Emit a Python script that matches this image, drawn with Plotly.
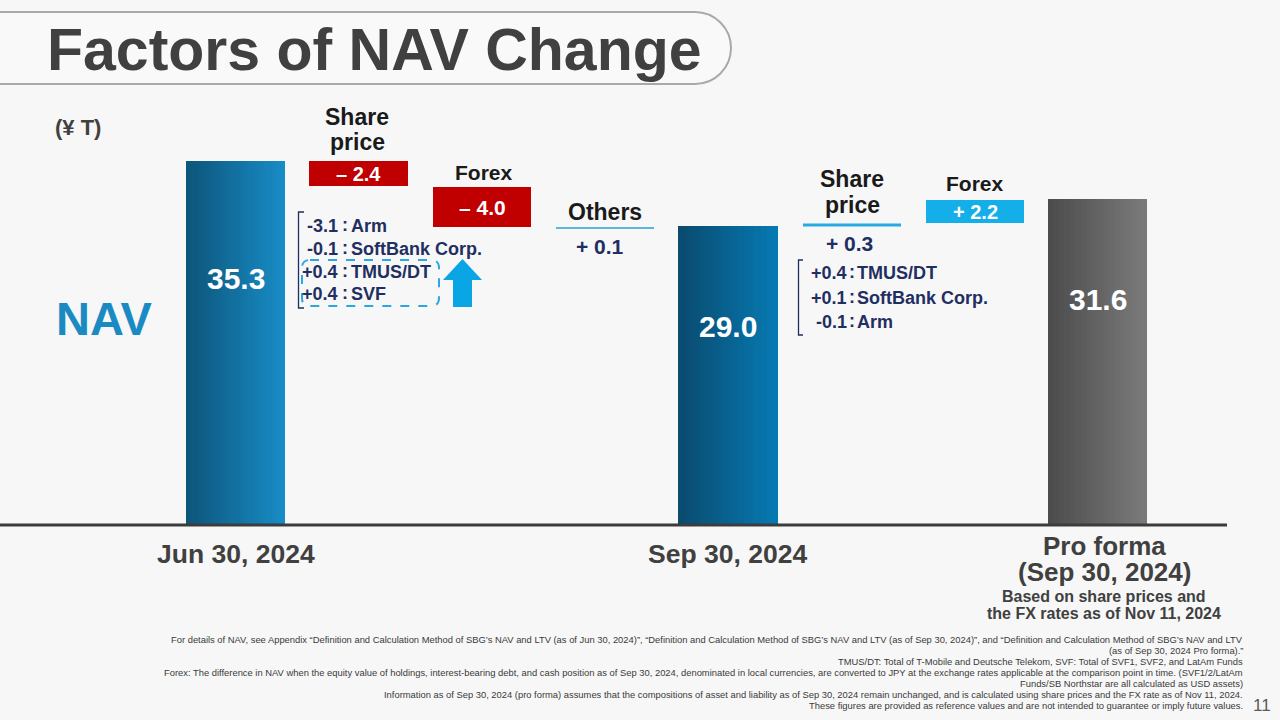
import plotly.graph_objects as go

# ---------------- data ----------------
categories = ["Jun 30, 2024", "Sep 30, 2024", "Pro forma<br>(Sep 30, 2024)"]
category_note = "Based on share prices and<br>the FX rates as of Nov 11, 2024"
nav_values = [35.3, 29.0, 31.6]
value_unit = "(¥ T)"

# Jun 30 -> Sep 30 factors
q_share_price = -2.4
q_forex = -4.0
q_others = 0.1
q_breakdown_values = [-3.1, -0.1, 0.4, 0.4]
q_breakdown_names = ["Arm", "SoftBank Corp.", "TMUS/DT", "SVF"]

# Sep 30 -> Pro forma factors
pf_share_price = 0.3
pf_forex = 2.2
pf_breakdown_values = [0.4, 0.1, -0.1]
pf_breakdown_names = ["TMUS/DT", "SoftBank Corp.", "Arm"]

footnotes = [
    "For details of NAV, see Appendix “Definition and Calculation Method of SBG’s NAV and LTV (as of Jun 30, 2024)”, “Definition and Calculation Method of SBG’s NAV and LTV (as of Sep 30, 2024)”, and “Definition and Calculation Method of SBG’s NAV and LTV",
    "(as of Sep 30, 2024 Pro forma).”",
    "TMUS/DT: Total of T-Mobile and Deutsche Telekom, SVF: Total of SVF1, SVF2, and LatAm Funds",
    "Forex: The difference in NAV when the equity value of holdings, interest-bearing debt, and cash position as of Sep 30, 2024, denominated in local currencies, are converted to JPY at the exchange rates applicable at the comparison point in time. (SVF1/2/LatAm",
    "Funds/SB Northstar are all calculated as USD assets)",
    "Information as of Sep 30, 2024 (pro forma) assumes that the compositions of asset and liability as of Sep 30, 2024 remain unchanged, and is calculated using share prices and the FX rate as of Nov 11, 2024.",
    "These figures are provided as reference values and are not intended to guarantee or imply future values.",
]
page_number = "11"

# ---------------- layout / style ----------------
W, H = 1280, 720
BASE_PY = 525          # pixel row of the zero line
PX_PER_UNIT = 10.31    # vertical scale
AXIS_END = 1227
bar_centers = [235.5, 728, 1097.5]
bar_width = 99
bar_grad = [("#0d5479", "#188dc7"), ("#0a4a6e", "#067ab3"), ("#4b4b4b", "#7b7b7b")]
label_drop = [117, 100, 100]

FONT = "Liberation Sans, Arial, Noto Sans CJK JP, sans-serif"
DARK = "#404040"
HEAD = "#1a1a1a"
NAVY = "#1f2f62"
RED = "#c00000"
CYAN = "#14aee9"


def fmt(v):
    return ("+" if v > 0 else "-") + f"{abs(v):.1f}"


def box_fmt(v):
    return ("+ " if v > 0 else "– ") + f"{abs(v):.1f}"


def hexmix(a, b, t):
    a = [int(a[i:i + 2], 16) for i in (1, 3, 5)]
    b = [int(b[i:i + 2], 16) for i in (1, 3, 5)]
    return "#" + "".join(f"{round(x + (y - x) * t):02x}" for x, y in zip(a, b))


def X(px):
    return px / W


def Y(py):
    return 1 - py / H


fig = go.Figure()

# gradient bars made of thin slices
N = 30
for i in range(N):
    t = (i + 0.5) / N
    off = -bar_width / 2 + t * bar_width
    fig.add_trace(go.Bar(
        x=[c + off for c in bar_centers], y=nav_values,
        width=bar_width / N + 0.6,
        marker=dict(color=[hexmix(a, b, t) for a, b in bar_grad], line=dict(width=0)),
        hoverinfo="skip", showlegend=False))

ann = []


def txt(text, x, y, size, color, xa="center", ya="middle", bold=True, family=FONT):
    ann.append(dict(text=(f"<b>{text}</b>" if bold else text), x=X(x), y=Y(y),
                    xref="paper", yref="paper", showarrow=False, xanchor=xa, yanchor=ya,
                    borderpad=0, borderwidth=0,
                    font=dict(size=size, color=color, family=family)))


shapes = []


def rect(x0, y0, x1, y1, fill):
    shapes.append(dict(type="rect", xref="paper", yref="paper", x0=X(x0), x1=X(x1),
                       y0=Y(y0), y1=Y(y1), fillcolor=fill, line=dict(width=0), layer="above"))


def hline(x0, x1, y, color, w):
    shapes.append(dict(type="line", xref="paper", yref="paper", x0=X(x0), x1=X(x1),
                       y0=Y(y), y1=Y(y), line=dict(color=color, width=w)))


def path(pts_cmds, color=None, fill=None, w=1.5, dash=None):
    s = ""
    for cmd in pts_cmds:
        if cmd[0] == "Z":
            s += " Z"
        else:
            c = cmd[0]
            coords = cmd[1:]
            s += f" {c}" + " ".join(f"{X(coords[k]):.5f},{Y(coords[k + 1]):.5f}" for k in range(0, len(coords), 2))
    line = dict(width=w if color else 0, color=color or "rgba(0,0,0,0)")
    if dash:
        line["dash"] = dash
    shapes.append(dict(type="path", xref="paper", yref="paper", path=s.strip(),
                       fillcolor=fill or "rgba(0,0,0,0)", line=line, layer="above"))


# title pill
r = 36
k = 0.5523 * r
path([("M", -10, 12), ("L", 731 - r, 12),
      ("C", 731 - r + k, 12, 731, 48 - k, 731, 48),
      ("C", 731, 48 + k, 731 - r + k, 84, 731 - r, 84),
      ("L", -10, 84)], color="#a9a9a9", fill="#f9f9f9", w=2)
txt("Factors of NAV Change", 47, 50, 59, DARK, xa="left")

# zero line
fig.add_shape(type="line", x0=0, x1=AXIS_END, y0=0, y1=0, xref="x", yref="y",
              line=dict(color="#3c3c3c", width=3))

# unit + NAV
txt(value_unit, 55, 127, 22, DARK, xa="left")
txt("NAV", 56, 318, 47, "#1a8bc2", xa="left")

# bar value labels
for c, v, d in zip(bar_centers, nav_values, label_drop):
    ann.append(dict(text=f"<b>{v:.1f}</b>", x=c, y=v, xref="x", yref="y", yshift=-d,
                    showarrow=False, xanchor="center", yanchor="middle",
                    font=dict(size=30, color="white", family=FONT)))

# category labels
cat_lines = [categories[0], categories[1]] + categories[2].split("<br>")
txt(cat_lines[0], bar_centers[0], 554, 26.5, DARK)
txt(cat_lines[1], bar_centers[1] - 1, 554, 26.5, DARK)
txt(cat_lines[2], 1104, 546, 26, DARK)
txt(cat_lines[3], 1104, 572, 26, DARK)
note_lines = category_note.split("<br>")
txt(note_lines[0], 1104, 596, 16, DARK)
txt(note_lines[1], 1104, 613, 16, DARK)

# ---- Jun -> Sep factors ----
txt("Share", 357, 117, 23, HEAD)
txt("price", 357, 142, 23, HEAD)
rect(309, 161, 408, 186, RED)
txt(box_fmt(q_share_price), 358, 174, 20, "white")

txt("Forex", 484, 172, 21, HEAD)
rect(433, 187, 531, 227, RED)
txt(box_fmt(q_forex), 482, 208, 21, "white")

txt("Others", 605, 212, 23, HEAD)
hline(556, 654, 228, "#5ab6dd", 2)
txt("+ " + f"{q_others:.1f}", 600, 246, 21, NAVY)


def breakdown(values, names, ys, num_right, colon_x, name_left):
    for v, n, y in zip(values, names, ys):
        txt(fmt(v), num_right, y, 18, NAVY, xa="right")
        txt(":", colon_x, y - 1, 18, NAVY)
        txt(n, name_left, y, 18, NAVY, xa="left")


breakdown(q_breakdown_values, q_breakdown_names, [226, 249, 272, 294], 338, 344.5, 351)
path([("M", 304, 212), ("L", 298.5, 212), ("L", 298.5, 308), ("L", 304, 308)], color=NAVY, w=1.3)
# dashed highlight box
rr = 8
path([("M", 302 + rr, 260), ("L", 439 - rr, 260), ("Q", 439, 260, 439, 260 + rr),
      ("L", 439, 306 - rr), ("Q", 439, 306, 439 - rr, 306), ("L", 302 + rr, 306),
      ("Q", 302, 306, 302, 306 - rr), ("L", 302, 260 + rr), ("Q", 302, 260, 302 + rr, 260), ("Z",)],
     color="#2aa8df", w=2, dash="dash")
# up arrow
path([("M", 462.5, 259), ("L", 482, 280), ("L", 472, 280), ("L", 472, 307), ("L", 453, 307),
      ("L", 453, 280), ("L", 443, 280), ("Z",)], fill="#0aa5e5")

# ---- Sep -> Pro forma factors ----
txt("Share", 852, 179, 23, HEAD)
txt("price", 852, 205, 23, HEAD)
hline(803, 901, 225, "#29a9e1", 3)
txt("+ " + f"{pf_share_price:.1f}", 849, 243, 21, NAVY)

txt("Forex", 975, 183, 21, HEAD)
rect(926, 200, 1024, 223, CYAN)
txt(box_fmt(pf_forex), 975, 212, 20, "white")

breakdown(pf_breakdown_values, pf_breakdown_names, [273, 298, 322], 847, 851.5, 857)
path([("M", 803, 260), ("L", 798.5, 260), ("L", 798.5, 335), ("L", 803, 335)], color=NAVY, w=1.3)

# footnotes
for i, line in enumerate(footnotes):
    txt(line, 1243, 639 + 11 * i, 9.4, "#3a3a3a", xa="right", bold=False)
txt(page_number, 1262, 705, 17, "#595959", bold=False)

fig.update_layout(
    width=W, height=H, margin=dict(l=0, r=0, t=0, b=0),
    paper_bgcolor="#f7f7f7", plot_bgcolor="#f7f7f7",
    barmode="overlay", bargap=0,
    xaxis=dict(visible=False, range=[0, W], fixedrange=True),
    yaxis=dict(visible=False, range=[-(H - BASE_PY) / PX_PER_UNIT, BASE_PY / PX_PER_UNIT], fixedrange=True),
    annotations=ann, shapes=list(fig.layout.shapes) + shapes,
    showlegend=False,
)

fig.write_html(
    "out.html",
    config={"displayModeBar": False},
    post_script="document.body.style.margin='0';document.body.style.background='#f7f7f7';document.body.style.overflow='hidden';",
)
